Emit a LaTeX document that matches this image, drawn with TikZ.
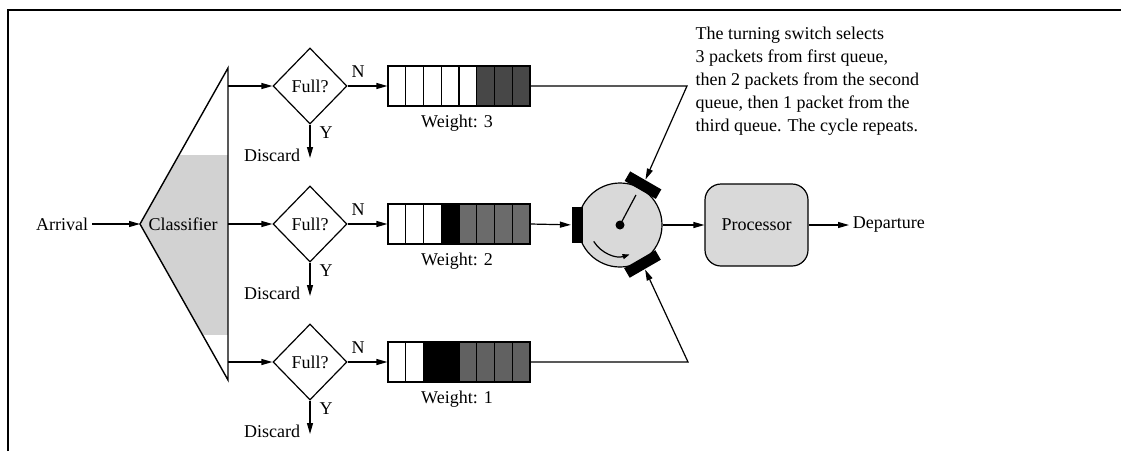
\documentclass[tikz,border=0pt]{standalone}
\usepackage{fontspec}
\setmainfont{Liberation Serif}
\usetikzlibrary{arrows.meta, shapes.geometric, calc}

\begin{document}
\begin{tikzpicture}[
    x=1pt, y=1pt,
    every node/.style={font=\fontsize{18}{23}\selectfont},
    >={Triangle[length=11pt,width=6pt]},
    line width=1.2pt,
    pad/.style={fill=black, minimum width=11, minimum height=36, inner sep=0}
]
\useasboundingbox (0,0) rectangle (1121,-451);

% Parameters
\def\qx{388}      % left edge of the queues
\def\cw{17.75}    % width of one queue cell
\def\qh{40}       % queue height

% === Frame ===
\draw[line width=2pt] (8,-451) -- (8,-10) -- (1121,-10);

% === Classifier (triangle, shaded band in the middle) ===
\coordinate (apex) at (140,-224);
\coordinate (ctop) at (228,-68);
\coordinate (cbot) at (228,-380);
\begin{scope}
    \clip (apex) -- (ctop) -- (cbot) -- cycle;
    \fill[gray!35] (140,-155) rectangle (228,-335);
\end{scope}
\draw[line width=1.4pt] (apex) -- (ctop) -- (cbot) -- cycle;
\node (cls) at (183,-224) {Classifier};

\node[anchor=east] (arr) at (92,-224) {Arrival};
\draw[->] (arr.east) -- (apex);

% === Three branches: test, queue, weight ===
% row y / weight / white cells / black cells / shade of the rest
\foreach \y/\n/\w/\b/\g in {86/3/5/0/72, 224/2/3/1/58, 362/1/2/2/62} {
    \coordinate (src\n) at (228,-\y);
    \node[diamond, draw, minimum width=74, minimum height=76, inner sep=0] (full\n) at (310,-\y) {Full?};
    \draw[->] (src\n) -- (full\n.west);

    % Discard path
    \coordinate (dis\n) at (310,-\y-72);
    \draw[->] (full\n.south) -- (dis\n);
    \node (yes\n) at (326,-\y-47) {Y};
    \node[anchor=east] (drop\n) at (304,-\y-69) {Discard};

    % Queue cells
    \foreach \i in {0,...,7} {
        \pgfmathsetmacro{\cx}{\qx+\i*\cw}
        \pgfmathtruncatemacro{\shade}{\i<\w ? 0 : (\i<\w+\b ? 100 : \g)}
        \draw[fill=black!\shade] (\cx,-\y+\qh/2) rectangle ++(\cw,-\qh);
    }
    \node[draw, minimum width=142, minimum height=\qh, inner sep=0] (q\n) at (459,-\y) {};
    \node (no\n) at (358,-\y+14) {N};
    \draw[->] (full\n.east) -- (q\n.west);
    \node (wt\n) at (457,-\y-37) {Weight: \n};
}

% === Turning switch ===
\node[circle, draw, fill=gray!30, minimum size=84, inner sep=0] (sw) at (620,-225) {};
\node[pad, rotate=180] (padL) at ($(sw.center)+(180:43)$) {};
\node[pad, rotate=60] (padT) at ($(sw.center)+(60:46)$) {};
\node[pad, rotate=-60] (padB) at ($(sw.center)+(-60:45)$) {};
\draw (sw.center) -- ++(62:34);
\fill (sw.center) circle (4.5);
\draw[-{Triangle[length=7pt,width=5pt]}] ($(sw.center)+(212:31)$) arc (212:288:31);

% Queues into the switch
\coordinate (bend3) at (687,-86);
\coordinate (bend1) at (688,-362);
\draw[->] (q3.east) -- (bend3) -- (padT);
\draw[->] (q2.east) -- (padL);
\draw[->] (q1.east) -- (bend1) -- (padB);

% === Processor ===
\node[draw, rounded corners=16, fill=gray!30, minimum width=103, minimum height=82] (proc) at (756.5,-225) {Processor};
\draw[->] (sw.east) -- (proc.west);
\node[anchor=west] (dep) at (849,-225) {Departure};
\draw[->] (proc.east) -- (dep.west);

% Note on the switch
\node[anchor=north west, align=left, inner sep=0] (note) at (695,-26) {The turning switch selects\\
3 packets from first queue,\\
then 2 packets from the second\\
queue, then 1 packet from the\\
third queue. The cycle repeats.};

\end{tikzpicture}
\end{document}
